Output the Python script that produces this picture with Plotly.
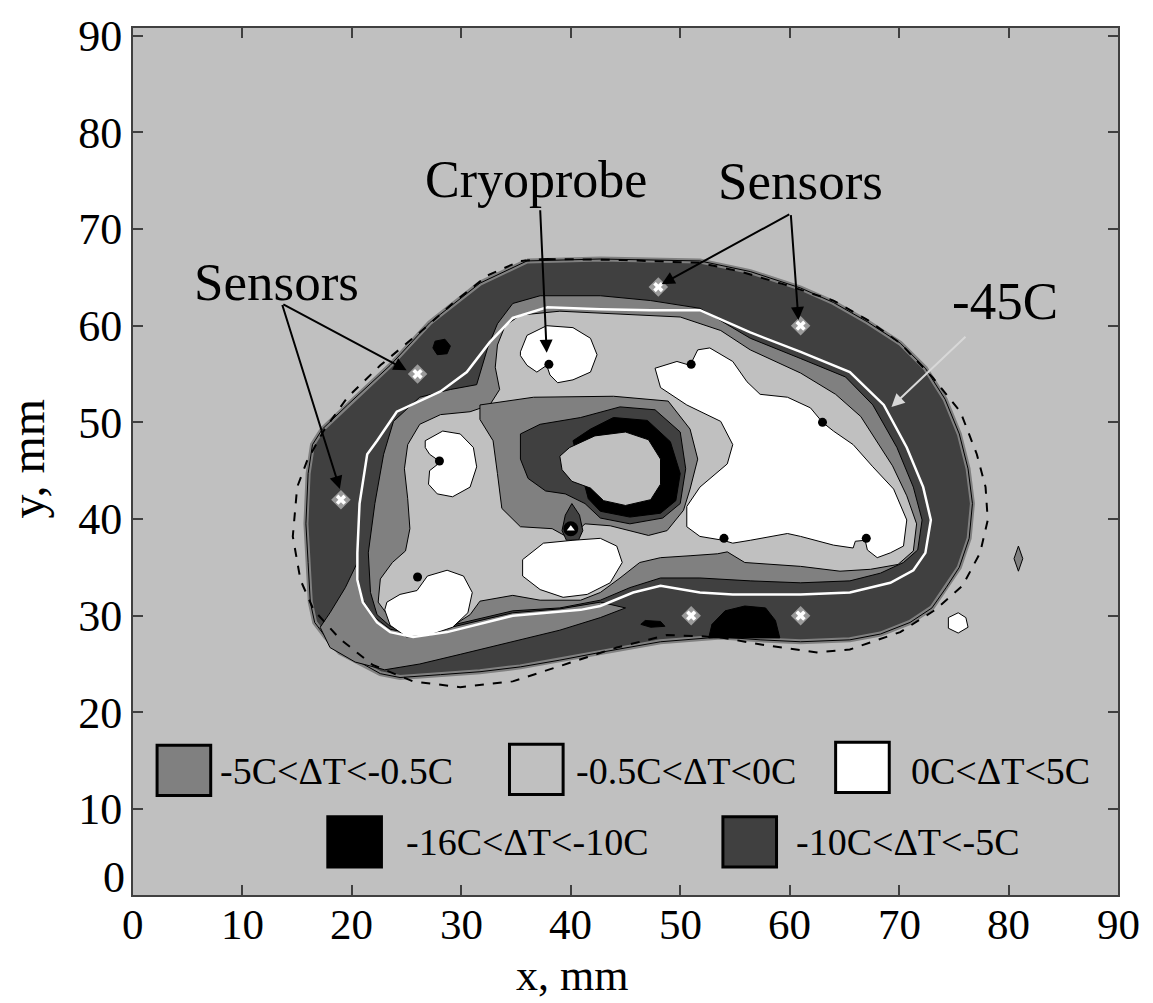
import plotly.graph_objects as go

# ---------------- data (mm) ----------------
x_ticks = [0, 10, 20, 30, 40, 50, 60, 70, 80, 90]
y_ticks = [10, 20, 30, 40, 50, 60, 70, 80, 90]

outer_dark = [(36.0,66.7),(42.7,66.9),(51.8,66.7),(56.4,65.6),(61.0,63.9),(64.0,62.4),(67.1,60.4),(70.1,58.2),
              (72.4,55.6),(74.2,52.4),(75.5,48.8),(76.3,45.2),(76.7,41.6),(76.4,38.0),(75.5,35.0),(74.3,32.9),
              (73.0,30.8),(71.0,29.3),(68.3,28.1),(65.5,27.5),(61.0,27.3),(57.3,27.5),
              (53.7,27.8),(48.2,27.3),(42.7,26.2),(39.0,25.4),(35.4,24.7),(31.7,24.2),(28.1,23.9),(24.4,23.6),
              (22.6,24.0),(20.7,25.2),(18.9,26.2),(17.6,27.8),(16.6,29.3),(16.2,31.4),(16.0,35.5),(15.8,39.5),
              (16.0,44.7),(16.4,47.7),(17.3,49.3),(19.6,51.8),(23.5,55.9),(27.1,60.3),(31.7,64.4)]

corner_patch = [(20.5,35.5),(19.4,32.9),(18.0,30.3),(17.1,28.8),(18.0,26.7),(20.3,25.2),(23.0,24.4),(26.2,25.0),
                (29.9,26.0),(34.7,27.3),(39.0,28.5),(42.7,29.8),(45.0,30.8),(42.7,31.4),(39.0,30.7),(34.7,30.3),
                (28.7,28.7),(25.6,28.1),(23.5,28.6),(22.1,29.8),(21.0,31.6),(20.6,33.6)]

mid_region = [(32.4,57.7),(33.3,60.2),(34.7,62.3),(37.2,63.1),(42.7,63.1),(47.3,62.6),(51.8,61.8),(56.4,58.7),
              (61.0,56.6),(65.1,54.7),(67.6,51.8),(69.8,47.4),(71.3,43.3),(72.1,39.9),(71.7,36.8),(70.4,35.5),
              (68.3,34.4),(65.5,33.6),(61.0,33.4),(56.4,33.6),(51.8,33.9),(48.2,33.9),(45.4,32.9),(42.7,31.6),
              (39.0,30.8),(34.7,30.5),(28.7,28.9),(25.6,28.3),(23.5,28.9),(22.3,30.1),(21.7,32.4),(21.5,36.5),
              (22.1,41.6),(22.9,46.7),(23.8,50.1),(26.2,52.6),(29.0,53.4),(31.4,53.9)]

light_region = [(33.3,58.0),(34.0,60.0),(35.4,61.1),(39.0,61.5),(44.5,61.2),(50.0,60.9),(53.7,59.5),(56.4,57.5),
                (61.0,55.1),(64.2,52.9),(66.5,50.6),(67.8,48.3),(69.4,45.5),(70.7,42.4),(71.6,39.5),(71.3,36.7),
                (69.9,35.3),(67.4,34.8),(64.6,34.6),(61.0,35.1),(58.2,35.3),(55.9,35.5),(54.3,36.6),(53.4,36.4),
                (50.9,36.2),(48.2,36.0),(46.3,35.5),(44.5,33.9),(42.7,32.4),(40.9,31.6),(37.2,31.6),(34.7,32.1),
                (31.7,31.5),(30.8,30.1),(29.0,28.8),(26.2,28.3),(23.9,29.1),(22.4,31.4),(22.6,33.8),(23.7,35.5),
                (24.9,36.7),(25.3,39.0),(25.1,42.1),(24.8,45.2),(25.1,47.7),(26.2,49.8),(28.1,50.8),(30.8,51.1),
                (32.6,51.8),(33.5,53.4),(33.1,55.7)]

center_mid = [(31.7,51.8),(36.6,52.6),(43.9,52.7),(48.9,52.2),(50.9,49.3),(51.6,46.2),(50.9,43.1),(50.3,40.9),
              (48.8,38.8),(47.1,38.3),(43.6,39.3),(41.3,39.5),(39.9,38.0),(38.3,39.0),(35.4,39.2),(33.7,41.1),
              (33.3,44.7),(32.9,48.1),(31.7,50.3)]

center_dark = [(35.4,48.8),(37.2,49.8),(40.9,50.5),(44.5,51.6),(47.7,51.3),(50.0,49.0),(50.5,45.2),(50.0,41.6),
               (48.4,40.1),(45.4,39.5),(42.7,40.1),(41.3,41.6),(39.5,42.6),(37.7,42.9),(36.1,44.2),(35.4,46.2)]

black_ring = [(40.2,48.1),(41.8,49.3),(43.9,50.5),(47.0,50.2),(49.1,48.0),(50.0,44.7),(49.6,41.9),(48.2,40.6),
              (45.4,40.2),(42.7,40.8),(41.6,42.1)]

ring_hole = [(39.0,46.5),(39.9,47.4),(42.2,48.6),(45.0,49.0),(47.1,48.2),(48.2,46.2),(48.2,43.6),(47.3,42.0),
             (45.0,41.4),(43.0,41.9),(41.8,43.2),(40.1,43.9),(39.2,45.1)]

teardrop = [(39.2,38.8),(39.5,40.4),(40.1,41.6),(40.8,40.4),(41.1,38.8),(40.7,37.8),(39.6,37.8)]

white_cryo = [(35.4,57.3),(36.0,59.0),(37.8,60.0),(40.2,59.8),(41.8,58.7),(42.4,57.0),(41.8,55.2),(40.2,54.4),
              (38.8,54.1),(38.1,54.9),(37.8,55.9),(36.9,55.2),(36.0,55.9),(35.4,56.9)]
white_left_up = [(26.7,48.1),(28.3,49.1),(29.9,48.8),(31.1,47.4),(31.4,45.4),(30.8,43.3),(29.2,42.3),(27.8,42.6),
                 (27.0,43.6),(27.1,45.0),(28.1,45.9),(27.1,46.7),(26.7,47.4)]
white_left_low = [(23.2,31.4),(24.4,32.2),(25.95,32.6),(26.9,34.1),(28.7,34.7),(30.2,34.1),(31.0,32.4),(30.6,30.3),
                  (29.2,28.8),(27.1,28.0),(25.0,27.8),(23.5,29.0),(23.0,30.6)]
white_bottom = [(35.6,35.8),(37.5,37.5),(40.2,37.8),(42.7,38.0),(44.2,37.2),(44.7,35.5),(43.6,33.4),(41.5,32.2),
                (39.3,31.9),(37.2,32.7),(35.6,34.1)]
white_right = [(47.7,55.6),(49.7,56.3),(50.9,55.9),(51.6,57.5),(52.7,57.7),(54.8,56.3),(56.1,54.2),(57.3,52.9),
               (59.8,52.6),(61.9,51.5),(63.0,50.0),(64.0,49.1),(65.8,47.7),(67.6,45.4),(69.5,43.1),(70.7,39.9),
               (70.4,37.2),(69.2,36.5),(68.0,36.0),(67.1,36.8),(66.9,37.8),(66.0,37.7),(65.8,37.0),(64.0,37.3),
               (61.0,38.2),(59.8,38.5),(56.4,37.8),(54.8,37.5),(53.9,37.8),(51.8,38.2),(50.6,39.2),(50.6,41.3),
               (51.8,43.3),(54.3,45.7),(54.8,47.7),(53.7,50.1),(50.6,51.8),(48.2,53.6)]
white_islet = [(74.5,29.8),(75.4,30.3),(76.1,29.8),(76.3,28.8),(75.4,28.2),(74.5,28.7)]
mid_islet = [(80.9,37.2),(81.3,35.9),(80.9,34.6),(80.5,35.9)]
black_dome = [(52.6,27.7),(52.9,29.1),(54.1,30.5),(55.9,31.0),(57.8,30.8),(58.7,29.5),(59.1,27.7)]
black_speck = [(46.8,29.5),(48.2,29.4),(48.6,28.9),(47.3,28.8),(46.4,29.1)]
black_spot = [(27.6,58.4),(28.5,58.6),(29.0,57.9),(28.7,57.1),(27.8,57.0),(27.4,57.7)]

dashed_edge = [(37.8,66.9),(44.5,66.8),(51.8,66.5),(55.5,65.6),(59.4,64.3),(64.0,62.6),(67.1,60.6),(70.1,58.2),
               (73.1,54.6),(75.6,51.1),(77.1,46.7),(77.9,43.3),(78.1,39.9),(77.4,36.5),(75.8,33.1),(73.3,30.6),
               (70.1,28.3),(65.5,26.5),(62.5,26.2),(58.0,26.9),(53.4,27.8),(48.8,28.0),(44.2,26.7),(39.3,24.9),
               (34.7,23.2),(29.9,22.6),(25.6,23.2),(21.9,24.9),(18.9,27.6),(16.5,30.6),(15.3,33.7),(14.6,38.2),
               (15.0,43.3),(15.9,46.0),(17.4,49.1),(19.6,52.6),(22.6,55.9),(26.2,59.3),(29.3,62.4),(32.4,65.2),
               (35.4,66.7),(37.8,66.9)]

iso_minus45 = [(37.8,61.9),(42.7,61.7),(47.3,61.6),(51.8,61.6),(56.4,59.3),(61.0,57.3),(65.5,55.2),(68.6,51.8),
               (70.7,47.4),(72.2,43.3),(72.9,39.9),(72.4,36.5),(71.3,34.7),(69.2,33.4),(65.5,32.4),(61.0,32.2),
               (54.8,32.2),(51.8,32.4),(48.2,33.1),(45.7,32.4),(42.7,31.0),(40.9,30.6),(34.7,30.0),(28.7,28.3),
               (25.6,27.8),(23.5,28.3),(22.3,29.3),(21.0,31.4),(20.5,33.7),(20.5,36.5),(20.7,41.6),(21.4,46.7),
               (22.3,48.1),(24.1,51.1),(28.1,53.2),(30.5,55.2),(32.6,58.3),(34.7,60.8),(37.8,61.9)]

probes_x = [38, 28, 26, 51, 63, 67, 54]
probes_y = [56, 46, 34, 56, 50, 38, 38]
tri_probe_x = [40]
tri_probe_y = [39]
sensors_x = [19, 26, 48, 61, 51, 61]
sensors_y = [42, 55, 64, 60, 30, 30]

legend_labels = ["-5C<ΔT<-0.5C", "-0.5C<ΔT<0C", "0C<ΔT<5C", "-16C<ΔT<-10C", "-10C<ΔT<-5C"]
legend_colors = ["#808080", "#c0c0c0", "#ffffff", "#000000", "#404040"]
legend_box_x0 = [2.2, 34.4, 64.2, 17.8, 53.9]
legend_box_y0 = [11.4, 11.5, 11.7, 4.0, 4.0]
legend_text_x = [7.8, 40.3, 70.9, 24.8, 60.4]
legend_text_y = [13.9, 13.9, 13.9, 6.6, 6.6]

# ---------------- colours ----------------
BG = "#c0c0c0"
MID = "#808080"
DARK = "#404040"
FONT = "Liberation Serif"

fig = go.Figure()


def poly(pts, fill, line="#000000", width=1.0, closed=True):
    xs = [p[0] for p in pts]
    ys = [p[1] for p in pts]
    if closed:
        xs = xs + [xs[0]]
        ys = ys + [ys[0]]
    fig.add_trace(go.Scatter(x=xs, y=ys, mode="lines", fill="toself" if fill else None,
                             fillcolor=fill, line=dict(color=line, width=width),
                             hoverinfo="skip", showlegend=False))


poly(outer_dark, DARK, line=MID, width=5)
poly(outer_dark, None, line="#000000", width=1)
poly(corner_patch, MID, width=1)
poly(mid_region, MID, width=1)
poly(light_region, BG, width=1)
poly(center_mid, MID, width=1)
poly(center_dark, DARK, width=1)
poly(black_ring, "#000000", width=1)
poly(ring_hole, BG, width=1)
poly(teardrop, DARK, width=1)
for w in (white_cryo, white_left_up, white_left_low, white_bottom, white_right, white_islet):
    poly(w, "#ffffff", width=1)
poly(mid_islet, MID, width=1)
poly(black_dome, "#000000", width=1)
poly(black_speck, "#000000", width=1)
poly(black_spot, "#000000", width=1)

# dashed outer contour
fig.add_trace(go.Scatter(x=[p[0] for p in dashed_edge], y=[p[1] for p in dashed_edge], mode="lines",
                         line=dict(color="#000000", width=2, dash="dash"), hoverinfo="skip", showlegend=False))
# -45C isotherm
fig.add_trace(go.Scatter(x=[p[0] for p in iso_minus45], y=[p[1] for p in iso_minus45], mode="lines",
                         line=dict(color="#ffffff", width=2.5), hoverinfo="skip", showlegend=False))

# probes
fig.add_trace(go.Scatter(x=probes_x, y=probes_y, mode="markers",
                         marker=dict(color="#000000", size=9, symbol="circle"),
                         hoverinfo="skip", showlegend=False))
fig.add_trace(go.Scatter(x=tri_probe_x, y=tri_probe_y, mode="markers",
                         marker=dict(color="#000000", size=15, symbol="circle"),
                         hoverinfo="skip", showlegend=False))
fig.add_trace(go.Scatter(x=tri_probe_x, y=tri_probe_y, mode="markers",
                         marker=dict(color="#ffffff", size=7, symbol="triangle-up"),
                         hoverinfo="skip", showlegend=False))
# sensors
fig.add_trace(go.Scatter(x=sensors_x, y=sensors_y, mode="markers",
                         marker=dict(color="#9a9a9a", size=15, symbol="diamond"),
                         hoverinfo="skip", showlegend=False))
fig.add_trace(go.Scatter(x=sensors_x, y=sensors_y, mode="markers",
                         marker=dict(color="#ffffff", size=9, symbol="x", line=dict(width=0)),
                         hoverinfo="skip", showlegend=False))

annotations = []
annotations.append(dict(x=36.8, y=75.1, xref="x", yref="y", text="Cryoprobe", showarrow=False,
                        font=dict(family=FONT, size=52, color="#000000")))
annotations.append(dict(x=61.0, y=75.0, xref="x", yref="y", text="Sensors", showarrow=False,
                        font=dict(family=FONT, size=53, color="#000000")))
annotations.append(dict(x=13.1, y=64.5, xref="x", yref="y", text="Sensors", showarrow=False,
                        font=dict(family=FONT, size=53, color="#000000")))
annotations.append(dict(x=79.7, y=62.6, xref="x", yref="y", text="-45C", showarrow=False,
                        font=dict(family=FONT, size=53, color="#000000")))

arrow_list = [
    ((37.2, 72.1), (37.8, 57.2), "#000000"),
    ((60.1, 71.6), (48.3, 64.3), "#000000"),
    ((60.1, 71.6), (60.8, 60.6), "#000000"),
    ((13.6, 62.3), (25.0, 55.4), "#000000"),
    ((13.6, 62.3), (18.9, 43.1), "#000000"),
    ((76.2, 59.0), (69.3, 51.6), "#d8d8d8"),
]
for (tail, head, col) in arrow_list:
    annotations.append(dict(x=head[0], y=head[1], ax=tail[0], ay=tail[1], xref="x", yref="y",
                            axref="x", ayref="y", text="", showarrow=True, arrowhead=2,
                            arrowsize=1.3, arrowwidth=2, arrowcolor=col, standoff=0))

shapes = []
for lbl, col, bx, by, tx, ty in zip(legend_labels, legend_colors, legend_box_x0, legend_box_y0,
                                    legend_text_x, legend_text_y):
    shapes.append(dict(type="rect", xref="x", yref="y", x0=bx, x1=bx + 4.9, y0=by, y1=by + 5.2,
                       fillcolor=col, line=dict(color="#000000", width=3)))
    annotations.append(dict(x=tx, y=ty, xref="x", yref="y", text=lbl, showarrow=False, xanchor="left",
                            font=dict(family=FONT, size=38, color="#000000")))

# x tick labels (placed as text so they sit close to the axis like the reference)
for v in x_ticks:
    annotations.append(dict(x=v, y=-0.034, xref="x", yref="paper", text=str(v), showarrow=False,
                            yanchor="middle", font=dict(family=FONT, size=43, color="#000000")))

# axis titles
annotations.append(dict(x=0.446, y=-0.093, xref="paper", yref="paper", text="x, mm", showarrow=False,
                        font=dict(family=FONT, size=44, color="#000000"), yanchor="middle"))
annotations.append(dict(x=-0.107, y=0.503, xref="paper", yref="paper", text="y, mm", showarrow=False,
                        textangle=-90, font=dict(family=FONT, size=48, color="#000000"), xanchor="center"))
# y "0" label
annotations.append(dict(x=0, y=2.9, xref="x", yref="y", text="0", showarrow=False, xanchor="right",
                        xshift=-6, font=dict(family=FONT, size=44, color="#000000")))

axis_common = dict(showgrid=False, zeroline=False, showline=True, linecolor="#404040", linewidth=2,
                   ticks="inside", ticklen=10, tickwidth=2, tickcolor="#404040", mirror="ticks",
                   tickfont=dict(family=FONT, size=44, color="#000000"))

fig.update_layout(
    width=1153, height=1003,
    margin=dict(l=133, r=35, t=20, b=108),
    paper_bgcolor="#ffffff", plot_bgcolor=BG,
    xaxis=dict(range=[0, 90], tickvals=x_ticks, showticklabels=False, **axis_common),
    yaxis=dict(range=[1.1, 90.8], tickvals=y_ticks, **axis_common),
    annotations=annotations, shapes=shapes,
)

fig.write_html("out.html")
